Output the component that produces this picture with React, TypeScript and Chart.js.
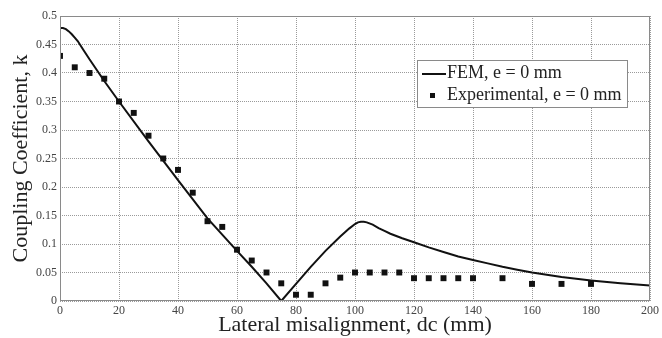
import React, { useEffect, useRef } from "react";
import { Chart, registerables } from "chart.js";

Chart.register(...registerables);

const femX = [0, 1, 2, 3, 4, 5, 6, 8, 10, 15, 20, 30, 40, 50, 60, 65, 70, 75, 80, 85, 90, 95, 98, 100, 101, 102, 103, 104, 106, 108, 110, 112, 116, 120, 125, 130, 135, 140, 145, 150, 155, 160, 170, 180, 190, 200];
const femK = [0.479, 0.479, 0.477, 0.473, 0.468, 0.462, 0.456, 0.44, 0.424, 0.386, 0.35, 0.28, 0.212, 0.145, 0.088, 0.06, 0.031, 0.0, 0.03, 0.06, 0.088, 0.113, 0.127, 0.135, 0.138, 0.139, 0.139, 0.138, 0.134, 0.128, 0.123, 0.118, 0.11, 0.103, 0.094, 0.086, 0.078, 0.072, 0.066, 0.06, 0.055, 0.05, 0.042, 0.036, 0.031, 0.027];

const expX = [0, 5, 10, 15, 20, 25, 30, 35, 40, 45, 50, 55, 60, 65, 70, 75, 80, 85, 90, 95, 100, 105, 110, 115, 120, 125, 130, 135, 140, 150, 160, 170, 180];
const expK = [0.43, 0.41, 0.4, 0.39, 0.35, 0.33, 0.29, 0.25, 0.23, 0.19, 0.14, 0.13, 0.09, 0.071, 0.05, 0.031, 0.011, 0.011, 0.031, 0.041, 0.05, 0.05, 0.05, 0.05, 0.04, 0.04, 0.04, 0.04, 0.04, 0.04, 0.03, 0.03, 0.03];

const legendLabels = ["FEM, e = 0 mm", "Experimental, e = 0 mm"];
const xTitle = "Lateral misalignment, dc (mm)";
const yTitle = "Coupling Coefficient, k";

const SERIF = "'Liberation Serif', 'Times New Roman', serif";

const framePlugin = {
  id: "frameAndLegend",
  afterDraw(chart: any) {
    const { ctx, chartArea } = chart;
    ctx.save();
    ctx.strokeStyle = "#8a8a8a";
    ctx.lineWidth = 1;
    ctx.setLineDash([]);
    ctx.strokeRect(chartArea.left + 0.5, chartArea.top + 0.5, chartArea.right - chartArea.left - 1, chartArea.bottom - chartArea.top - 1);

    // legend box
    const bx = 417, by = 60, bw = 210, bh = 47;
    ctx.fillStyle = "#ffffff";
    ctx.fillRect(bx, by, bw, bh);
    ctx.strokeStyle = "#8a8a8a";
    ctx.strokeRect(bx + 0.5, by + 0.5, bw, bh);
    ctx.strokeStyle = "#111";
    ctx.lineWidth = 2;
    ctx.beginPath();
    ctx.moveTo(bx + 5, by + 14);
    ctx.lineTo(bx + 29, by + 14);
    ctx.stroke();
    ctx.fillStyle = "#111";
    ctx.fillRect(bx + 13, by + 33, 5, 5);
    ctx.fillStyle = "#222";
    ctx.font = `18px ${SERIF}`;
    ctx.textBaseline = "middle";
    ctx.textAlign = "left";
    ctx.fillText(legendLabels[0], bx + 30, by + 13);
    ctx.fillText(legendLabels[1], bx + 30, by + 35);
    ctx.restore();
  },
};

export default function App() {
  const ref = useRef<HTMLCanvasElement>(null);
  useEffect(() => {
    const canvas = ref.current;
    if (!canvas) return;
    const chart = new Chart(canvas, {
      type: "line",
      data: {
        datasets: [
          {
            label: legendLabels[0],
            data: femX.map((x, i) => ({ x, y: femK[i] })),
            borderColor: "#111",
            borderWidth: 2,
            pointRadius: 0,
            tension: 0,
            fill: false,
          },
          {
            label: legendLabels[1],
            data: expX.map((x, i) => ({ x, y: expK[i] })),
            showLine: false,
            pointStyle: "rect",
            pointRadius: 4.2,
            pointBorderWidth: 0,
            pointBackgroundColor: "#111",
            borderColor: "#111",
            backgroundColor: "#111",
          },
        ],
      },
      options: {
        responsive: false,
        animation: false,
        layout: { padding: { top: 16, right: 10, left: 0, bottom: 0 } },
        plugins: { legend: { display: false }, tooltip: { enabled: false } },
        scales: {
          x: {
            type: "linear",
            min: 0,
            max: 200,
            afterFit: (s: any) => { s.height = 37; },
            ticks: { stepSize: 20, padding: 3, color: "#444", font: { family: SERIF, size: 12 }, maxRotation: 0 },
            grid: { color: "#9a9a9a", lineWidth: 1, drawTicks: false },
            border: { display: false, dash: [1, 1] },
            title: { display: true, text: xTitle, color: "#222", font: { family: SERIF, size: 22 }, padding: { top: 0, bottom: 0 } },
          },
          y: {
            min: 0,
            max: 0.5,
            afterFit: (s: any) => { s.width = 60; },
            ticks: { stepSize: 0.05, padding: 3, color: "#444", font: { family: SERIF, size: 12 }, callback: (v: any) => String(Math.round(Number(v) * 100) / 100) },
            grid: { color: "#9a9a9a", lineWidth: 1, drawTicks: false },
            border: { display: false, dash: [1, 1] },
            title: { display: true, text: yTitle, color: "#222", font: { family: SERIF, size: 22 }, padding: { top: 8, bottom: 0 } },
          },
        },
      },
      plugins: [framePlugin],
    } as any);
    return () => chart.destroy();
  }, []);
  return (
    <div style={{ position: "absolute", left: 0, top: 0, width: 662, height: 338, background: "#fff" }}>
      <canvas ref={ref} width={662} height={338} />
    </div>
  );
}
